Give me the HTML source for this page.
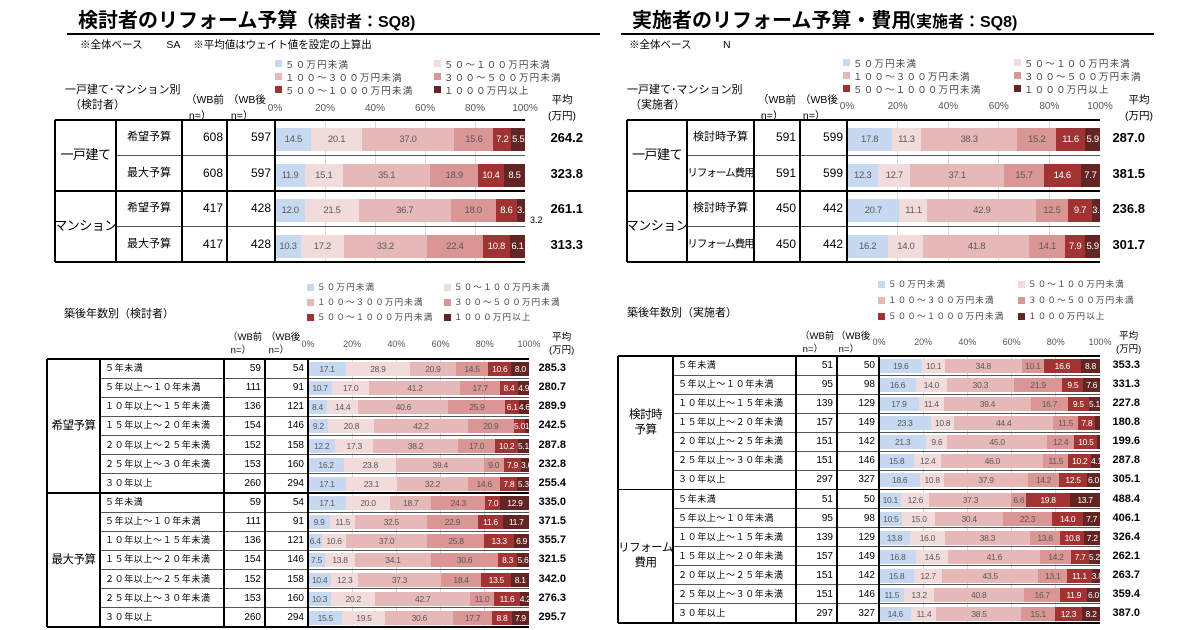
<!DOCTYPE html>
<html><head><meta charset="utf-8">
<style>
body{margin:0;width:1200px;height:630px;background:#fff;position:relative;overflow:hidden;font-family:"Liberation Sans","Noto Sans CJK JP",sans-serif;color:#000}
.a{position:absolute;white-space:nowrap}
</style></head><body>
<div id="r"></div>
<script>
const R=document.getElementById('r');
const C=['#c6d9f0','#f2dcdb','#e6b9b8','#d99694','#a13433','#632523'];
const TC=['#595959','#595959','#595959','#595959','#fff','#fff'];
function el(css,txt){const d=document.createElement('div');d.className='a';d.style.cssText=css;if(txt!==undefined)d.textContent=txt;R.appendChild(d);return d;}
function line(x1,y1,x2,y2,w,c){if(y1==y2)el(`left:${x1}px;top:${y1-w/2}px;width:${x2-x1}px;height:${w}px;background:${c}`);else el(`left:${x1-w/2}px;top:${y1}px;width:${w}px;height:${y2-y1}px;background:${c}`);}
const LEG=['５０万円未満','５０～１００万円未満','１００～３００万円未満','３００～５００万円未満','５００～１０００万円未満','１０００万円以上'];
function legend(x1,x2,ys,fs){for(let i=0;i<6;i++){const x=i%2?x2:x1,y=ys[Math.floor(i/2)];el(`left:${x}px;top:${y-4}px;width:7px;height:7px;background:${C[i]}`);el(`left:${x+10}px;top:${y-7}px;font-size:${fs}px;letter-spacing:1.2px;color:#444`,LEG[i]);}}
function axis(bx0,bx1,y,fs){for(let i=0;i<=5;i++){const x=bx0+(bx1-bx0)*i/5;el(`left:${x-20}px;top:${y-6}px;width:40px;text-align:center;font-size:${fs}px;color:#555`,(i*20)+'%');}}
function table(o){
 const {cols,top,bot,rows,groups,bx1,avgR,lfs,bfs,barOff,barH,gfs,valfs}=o;
 const n=rows.length,rh=(bot-top)/n,bx0=cols[4],W=bx1-bx0;
 for(let i=1;i<5;i++){const x=bx0+W*i/5;line(x,top,x,bot,1,'#d9d9d9');}
 rows.forEach((r,i)=>{
  const y=top+i*rh;
  const s=r.v.reduce((a,b)=>a+b,0);let x=bx0;
  r.v.forEach((v,k)=>{const w=W*v/s;el(`left:${x}px;top:${y+barOff}px;width:${w+0.3}px;height:${barH}px;background:${C[k]};color:${TC[k]};font-size:${valfs}px;line-height:${barH}px;text-align:center;overflow:hidden;letter-spacing:-0.3px`,v<2.5&&o.small?'':v.toFixed(1));x+=w;});
  line(cols[1],y+rh,bx1,y+rh,1,'#555');
  const long=r.l.length>5&&!o.labLeft;
  el(`left:${cols[1]+(o.labLeft?5:0)}px;width:${cols[2]-cols[1]-(o.labLeft?5:0)}px;top:${y}px;height:${rh}px;line-height:${rh}px;font-size:${long?lfs-0.5:lfs}px;${o.labLeft?'':'text-align:center;'}letter-spacing:${o.labLeft?0.6:(long?-1:0)}px`,r.l);
  el(`left:${cols[2]}px;width:${cols[3]-cols[2]-4}px;top:${y}px;line-height:${rh}px;font-size:${lfs+1}px;text-align:right`,r.a);
  el(`left:${cols[3]}px;width:${cols[4]-cols[3]-4}px;top:${y}px;line-height:${rh}px;font-size:${lfs+1}px;text-align:right`,r.b);
  el(`left:${avgR-60}px;width:60px;top:${y}px;line-height:${rh}px;font-size:${lfs+2}px;font-weight:bold;text-align:right`,r.m);
 });
 const per=n/groups.length;
 groups.forEach((g,i)=>{const y=top+i*per*rh;if(i>0)line(cols[0],y,bx1,y,1.5,'#000');
  const d=el(`left:${cols[0]}px;width:${cols[1]-cols[0]}px;top:${y}px;height:${per*rh}px;display:flex;align-items:center;justify-content:center;text-align:center;font-size:${gfs}px;line-height:1.3;letter-spacing:-0.5px`);d.innerHTML=g;});
 line(cols[0],top,bx1,top,1.5,'#000');line(cols[0],bot,bx1,bot,1.5,'#000');
 for(let i=0;i<5;i++)line(cols[i],top,cols[i],bot,1.5,'#000');
}
el('left:78px;top:4px;font-size:20px;font-weight:bold','検討者のリフォーム予算');
el('left:298px;top:8px;font-size:16px;font-weight:bold','（検討者：SQ8)');
line(67,34,600,34,2,'#000');
el('left:80px;top:37px;font-size:10.5px','※全体ベース　　 SA　 ※平均値はウェイト値を設定の上算出');
el('left:632px;top:4px;font-size:20px;font-weight:bold','実施者のリフォーム予算・費用');
el('left:900px;top:8px;font-size:16px;font-weight:bold','（実施者：SQ8)');
line(621,34,1154,34,2,'#000');
el('left:629px;top:37px;font-size:10.5px','※全体ベース　　　N');
legend(275,434,[64,77,90],9.5);
el('left:65px;top:81px;font-size:11px','一戸建て･マンション別');
el('left:70px;top:96px;font-size:11px','（検討者）');
el('left:186px;top:92px;font-size:10.5px;line-height:16px').innerHTML='（WB前<br>&nbsp;n=）';
el('left:228px;top:92px;font-size:10.5px;line-height:16px').innerHTML='（WB後<br>&nbsp;n=）';
axis(275,525,109,10);
el('left:548px;top:92px;font-size:10.5px;line-height:16px;text-align:center').innerHTML='平均<br>(万円)';
table({cols:[55,116,182,227,275],top:120,bot:262,bx1:525,avgR:583,lfs:11,gfs:13,valfs:9.5,barOff:8,barH:23,groups:['一戸建て','マンション'],rows:[
{l:'希望予算',a:608,b:597,v:[14.5,20.1,37.0,15.6,7.2,5.5],m:'264.2'},
{l:'最大予算',a:608,b:597,v:[11.9,15.1,35.1,18.9,10.4,8.5],m:'323.8'},
{l:'希望予算',a:417,b:428,v:[12.0,21.5,36.7,18.0,8.6,3.2],m:'261.1'},
{l:'最大予算',a:417,b:428,v:[10.3,17.2,33.2,22.4,10.8,6.1],m:'313.3'}]});
el('left:530px;top:215px;font-size:9px','3.2');
legend(843,1014,[63,76,89],9.5);
el('left:627px;top:81px;font-size:11px','一戸建て･マンション別');
el('left:630px;top:96px;font-size:11px','（実施者）');
el('left:758px;top:92px;font-size:10.5px;line-height:16px').innerHTML='（WB前<br>&nbsp;n=）';
el('left:800px;top:92px;font-size:10.5px;line-height:16px').innerHTML='（WB後<br>&nbsp;n=）';
axis(847,1100,107,10);
el('left:1125px;top:92px;font-size:10.5px;line-height:16px;text-align:center').innerHTML='平均<br>(万円)';
table({cols:[627,687,754,800,847],top:120,bot:262,bx1:1100,avgR:1145,lfs:11,gfs:13,valfs:9.5,barOff:8,barH:23,groups:['一戸建て','マンション'],rows:[
{l:'検討時予算',a:591,b:599,v:[17.8,11.3,38.3,15.2,11.6,5.9],m:'287.0'},
{l:'リフォーム費用',a:591,b:599,v:[12.3,12.7,37.1,15.7,14.6,7.7],m:'381.5'},
{l:'検討時予算',a:450,b:442,v:[20.7,11.1,42.9,12.5,9.7,3.1],m:'236.8'},
{l:'リフォーム費用',a:450,b:442,v:[16.2,14.0,41.8,14.1,7.9,5.9],m:'301.7'}]});
const LB=['５年未満','５年以上～１０年未満','１０年以上～１５年未満','１５年以上～２０年未満','２０年以上～２５年未満','２５年以上～３０年未満','３０年以上'];
function mk(ns,vals,ms){return vals.map((v,i)=>({l:LB[i%7],a:ns[i%7][0],b:ns[i%7][1],v:v,m:ms[i]}));}
const NL=[[59,54],[111,91],[136,121],[154,146],[152,158],[153,160],[260,294]];
legend(307,444,[288,303,318],8.5);
el('left:64px;top:305px;font-size:11px','築後年数別（検討者）');
el('left:228px;top:331px;font-size:9.5px;line-height:13px').innerHTML='（WB前<br>&nbsp;n=）';
el('left:266px;top:331px;font-size:9.5px;line-height:13px').innerHTML='（WB後<br>&nbsp;n=）';
axis(308,529,345,9);
el('left:549px;top:331px;font-size:9.5px;line-height:13px;text-align:center').innerHTML='平均<br>(万円)';
table({cols:[47,100,224,265,308],top:359,bot:627,bx1:529,avgR:566,lfs:9,gfs:11.5,valfs:8.5,barOff:3,barH:14,labLeft:1,small:0,groups:['希望予算','最大予算'],rows:mk(NL,[
[17.1,28.9,20.9,14.5,10.6,8.0],[10.7,17.0,41.2,17.7,8.4,4.9],[8.4,14.4,40.6,25.9,6.1,4.6],[9.2,20.8,42.2,20.9,5.0,1.9],[12.2,17.3,38.2,17.0,10.2,5.1],[16.2,23.8,39.4,9.0,7.9,3.6],[17.1,23.1,32.2,14.6,7.8,5.3],
[17.1,20.0,18.7,24.3,7.0,12.9],[9.9,11.5,32.5,22.9,11.6,11.7],[6.4,10.6,37.0,25.8,13.3,6.9],[7.5,13.8,34.1,30.6,8.3,5.6],[10.4,12.3,37.3,18.4,13.5,8.1],[10.3,20.2,42.7,11.0,11.6,4.2],[15.5,19.5,30.6,17.7,8.8,7.9]],
['285.3','280.7','289.9','242.5','287.8','232.8','255.4','335.0','371.5','355.7','321.5','342.0','276.3','295.7'])});
const NR=[[51,50],[95,98],[139,129],[157,149],[151,142],[151,146],[297,327]];
legend(878,1018,[285,301,317],8.5);
el('left:627px;top:304px;font-size:11px','築後年数別（実施者）');
el('left:800px;top:330px;font-size:9.5px;line-height:13px').innerHTML='（WB前<br>&nbsp;n=）';
el('left:836px;top:330px;font-size:9.5px;line-height:13px').innerHTML='（WB後<br>&nbsp;n=）';
axis(879,1100,343,9);
el('left:1116px;top:330px;font-size:9.5px;line-height:13px;text-align:center').innerHTML='平均<br>(万円)';
table({cols:[618,673,796,837,879],top:356,bot:623,bx1:1100,avgR:1140,lfs:9,gfs:11.5,valfs:8.5,barOff:3,barH:14,labLeft:1,small:1,groups:['検討時<br>予算','リフォーム<br>費用'],rows:mk(NR,[
[19.6,10.1,34.8,10.1,16.6,8.8],[16.6,14.0,30.3,21.9,9.5,7.6],[17.9,11.4,39.4,16.7,9.5,5.1],[23.3,10.8,44.4,11.5,7.8,2.1],[21.3,9.6,45.0,12.4,10.5,1.2],[15.8,12.4,46.0,11.5,10.2,4.1],[18.6,10.8,37.9,14.2,12.5,6.0],
[10.1,12.6,37.3,6.6,19.8,13.7],[10.5,15.0,30.4,22.3,14.0,7.7],[13.8,16.0,38.3,13.8,10.8,7.2],[16.8,14.5,41.6,14.2,7.7,5.2],[15.8,12.7,43.5,13.1,11.1,3.8],[11.5,13.2,40.8,16.7,11.9,6.0],[14.6,11.4,38.5,15.1,12.3,8.2]],
['353.3','331.3','227.8','180.8','199.6','287.8','305.1','488.4','406.1','326.4','262.1','263.7','359.4','387.0'])});
</script>
</body></html>
